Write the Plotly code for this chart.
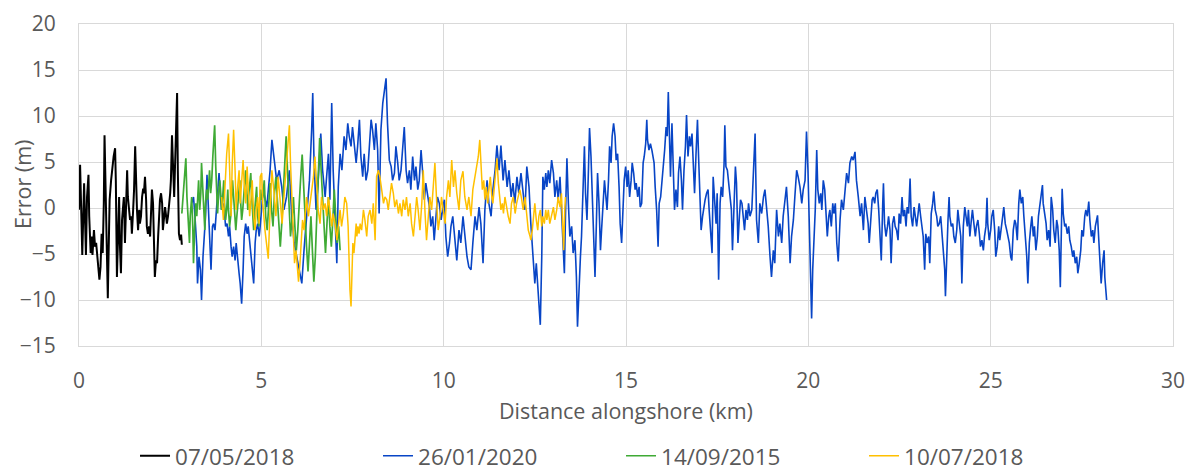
import plotly.graph_objects as go

# ---------------- data (km alongshore, error in m) ----------------
black_pts = [
 (0.00,-0.2),(0.03,4.7),(0.07,-1.7),(0.09,-5.1),(0.14,2.7),(0.16,-0.2),(0.19,-5.1),(0.22,1.2),(0.26,3.6),(0.28,-0.9),
 (0.32,-4.9),(0.35,-3.1),(0.37,-5.1),(0.41,-2.4),(0.44,-4.2),(0.47,-3.8),(0.50,-5.3),(0.53,-6.7),(0.56,-7.8),(0.59,-6.4),
 (0.62,-2.8),(0.65,-4.9),(0.68,0.5),(0.70,7.9),(0.73,1.2),(0.76,-6.7),(0.79,-9.8),(0.81,-5.3),(0.84,0.9),(0.88,3.0),
 (0.91,4.5),(0.95,5.6),(0.99,6.5),(1.01,3.0),(1.04,-7.5),(1.07,-1.3),(1.10,1.2),(1.12,-3.8),(1.15,-7.1),(1.18,-1.3),
 (1.21,0.9),(1.23,1.2),(1.26,-3.8),(1.29,-0.2),(1.32,4.1),(1.34,1.2),(1.37,-0.2),(1.40,-1.3),(1.43,-0.9),(1.45,-2.8),
 (1.48,-0.6),(1.51,2.0),(1.54,6.7),(1.56,3.0),(1.59,-0.2),(1.62,-2.4),(1.65,-0.2),(1.67,-1.7),(1.70,-0.9),(1.73,1.2),
 (1.76,2.1),(1.78,1.6),(1.81,3.4),(1.84,0.9),(1.86,-2.0),(1.89,-2.8),(1.92,-2.0),(1.95,-3.1),(1.97,-0.2),(2.00,2.0),
 (2.03,0.5),(2.06,-3.8),(2.08,-7.5),(2.11,-5.7),(2.14,-6.0),(2.17,-3.1),(2.19,-0.6),(2.22,0.9),(2.25,1.6),(2.28,0.5),
 (2.30,-2.4),(2.33,-1.3),(2.36,0.1),(2.39,-0.9),(2.41,-1.7),(2.44,-0.9),(2.47,0.1),(2.50,1.6),(2.52,3.0),(2.55,7.9),
 (2.58,4.5),(2.61,1.2),(2.63,4.1),(2.66,9.6),(2.69,12.5),(2.71,4.1),(2.74,-2.8),(2.77,-3.5),(2.80,-2.9),(2.82,-4.0),
]

blue_pts = [
 (3.09,0.5),(3.14,1.2),(3.18,-0.9),(3.23,-4.2),(3.25,-8.2),(3.29,-5.3),(3.33,-6.7),(3.36,-10.0),(3.40,-5.3),(3.44,-2.4),
 (3.47,-0.9),(3.51,3.6),(3.55,-0.2),(3.58,-3.1),(3.62,-6.7),(3.66,-2.0),(3.69,-1.7),(3.73,-2.4),(3.77,-0.2),(3.80,2.0),
 (3.84,3.8),(3.88,1.2),(3.91,-0.2),(3.95,0.5),(3.99,-0.6),(4.02,-2.0),(4.06,-1.7),(4.10,-3.1),(4.13,-2.0),(4.17,-4.2),
 (4.20,-5.3),(4.24,-4.2),(4.28,-5.7),(4.31,-3.8),(4.35,-6.0),(4.39,-7.1),(4.42,-8.2),(4.46,-10.4),(4.50,-6.7),(4.53,-3.1),
 (4.57,-1.7),(4.61,-2.8),(4.64,-2.0),(4.68,-3.8),(4.72,-5.3),(4.75,-6.7),(4.79,-8.2),(4.83,-3.8),(4.86,-2.4),(4.90,-1.7),
 (4.94,-3.1),(4.96,-2.4),(5.05,2.0),(5.15,0.1),(5.24,4.1),(5.29,7.4),(5.35,5.6),(5.42,3.0),(5.49,4.1),(5.56,2.3),
 (5.62,-0.2),(5.69,1.2),(5.77,4.1),(5.83,-0.6),(5.90,-3.8),(5.97,-5.3),(6.04,-6.7),(6.11,-8.2),(6.17,-4.6),(6.24,-0.9),
 (6.32,3.0),(6.38,8.5),(6.41,12.5),(6.44,5.9),(6.50,-0.2),(6.56,3.0),(6.63,8.1),(6.68,4.1),(6.75,1.2),(6.79,3.4),
 (6.84,5.9),(6.88,0.9),(6.93,11.4),(6.97,4.1),(7.02,-0.2),(7.07,-6.0),(7.11,2.3),(7.16,5.9),(7.21,4.1),(7.27,7.8),
 (7.32,6.3),(7.37,9.2),(7.41,7.8),(7.46,6.7),(7.50,8.8),(7.55,7.0),(7.60,4.9),(7.64,6.7),(7.69,9.6),(7.73,5.6),
 (7.78,3.4),(7.82,5.9),(7.87,3.0),(7.92,4.1),(7.96,6.3),(8.01,9.6),(8.05,8.5),(8.10,6.3),(8.14,9.2),(8.19,6.3),
 (8.23,-0.6),(8.28,8.5),(8.33,11.4),(8.37,12.8),(8.42,14.1),(8.46,9.2),(8.51,5.2),(8.56,4.5),(8.60,3.0),(8.65,3.8),
 (8.69,6.7),(8.74,4.9),(8.78,3.0),(8.83,4.1),(8.87,6.7),(8.92,8.8),(8.97,4.1),(9.01,2.7),(9.06,4.1),(9.10,2.0),
 (9.15,5.6),(9.20,3.0),(9.24,4.5),(9.29,2.0),(9.33,3.0),(9.38,6.3),(9.42,4.1),(9.47,0.9),(9.51,2.7),(9.56,1.2),
 (9.61,0.1),(9.65,-2.0),(9.70,-0.9),(9.74,-3.5),(9.79,-0.2),(9.83,1.2),(9.88,0.5),(9.93,-1.3),(9.97,-0.2),(10.02,0.9),
 (10.06,-3.1),(10.11,-5.3),(10.16,-3.8),(10.20,-2.0),(10.25,-0.9),(10.29,-2.4),(10.36,-5.7),(10.42,-2.4),(10.47,-3.8),(10.53,-0.9),
 (10.58,-3.1),(10.64,-5.3),(10.69,-6.4),(10.75,-6.7),(10.80,-3.8),(10.86,-0.9),(10.91,-2.4),(10.97,0.1),(11.02,-1.7),(11.08,-6.0),
 (11.13,-0.2),(11.19,3.0),(11.24,0.5),(11.30,-0.9),(11.35,2.0),(11.41,4.1),(11.46,6.8),(11.52,4.1),(11.57,6.8),(11.63,3.0),
 (11.68,5.2),(11.74,2.3),(11.79,4.1),(11.85,1.2),(11.90,2.7),(11.95,0.5),(12.01,3.4),(12.06,1.6),(12.12,3.8),(12.17,2.0),
 (12.23,-0.2),(12.28,4.5),(12.34,2.3),(12.39,-1.7),(12.43,-4.2),(12.47,-6.7),(12.50,-8.2),(12.54,-6.0),(12.58,-8.9),(12.61,-10.4),
 (12.65,-12.7),(12.69,-5.3),(12.72,3.4),(12.76,2.0),(12.80,3.8),(12.83,2.3),(12.87,4.1),(12.91,2.7),(12.96,5.2),(13.01,3.8),
 (13.05,1.2),(13.10,3.0),(13.14,0.9),(13.19,3.4),(13.23,-0.6),(13.28,-5.3),(13.31,-7.1),(13.34,-0.9),(13.38,5.4),(13.42,0.5),
 (13.46,-3.1),(13.51,-2.0),(13.55,-4.9),(13.60,-3.5),(13.64,-7.5),(13.67,-12.9),(13.71,-8.2),(13.75,-5.3),(13.78,-3.1),(13.82,2.0),
 (13.86,6.7),(13.89,1.6),(13.93,-1.3),(13.97,4.1),(14.00,8.7),(14.04,5.6),(14.08,0.5),(14.11,-4.2),(14.15,-7.5),(14.19,-1.3),
 (14.22,3.8),(14.26,0.5),(14.30,-4.6),(14.33,-2.4),(14.37,1.2),(14.41,3.0),(14.44,1.6),(14.48,-0.2),(14.52,3.0),(14.55,6.7),
 (14.59,4.9),(14.62,7.8),(14.66,9.2),(14.70,7.8),(14.73,5.2),(14.77,5.9),(14.81,2.3),(14.84,-1.7),(14.88,-3.8),(14.92,-0.6),
 (14.95,3.0),(14.99,4.5),(15.03,2.3),(15.06,4.1),(15.10,1.2),(15.14,3.0),(15.17,4.9),(15.21,3.8),(15.25,2.0),(15.28,2.7),
 (15.32,1.2),(15.36,2.3),(15.39,0.1),(15.43,0.5),(15.47,4.9),(15.50,5.6),(15.54,7.0),(15.57,9.6),(15.59,7.4),(15.63,6.3),
 (15.67,7.0),(15.71,6.3),(15.77,4.9),(15.80,2.3),(15.84,-0.2),(15.88,-4.2),(15.91,0.5),(15.95,1.2),(15.99,3.0),(16.02,4.1),
 (16.06,6.3),(16.10,8.8),(16.13,7.8),(16.16,12.6),(16.19,5.9),(16.22,3.4),(16.26,9.2),(16.30,4.9),(16.33,-0.2),(16.37,2.0),
 (16.41,0.1),(16.44,3.8),(16.48,5.6),(16.52,3.0),(16.55,-0.2),(16.59,4.1),(16.63,6.7),(16.66,10.1),(16.70,5.6),(16.74,7.8),
 (16.77,6.7),(16.81,8.1),(16.85,4.1),(16.88,1.6),(16.92,5.9),(16.96,9.6),(16.99,5.6),(17.03,1.2),(17.06,-2.4),(17.10,-0.9),
 (17.14,0.5),(17.17,0.9),(17.21,1.6),(17.25,2.0),(17.28,-0.2),(17.32,-3.1),(17.36,-4.9),(17.39,3.4),(17.43,0.5),(17.47,-1.7),
 (17.50,1.6),(17.54,-7.8),(17.58,0.5),(17.61,2.3),(17.65,1.2),(17.69,4.9),(17.71,9.0),(17.74,4.5),(17.78,4.1),(17.81,2.7),
 (17.85,1.2),(17.89,-0.2),(17.92,-4.6),(17.96,1.2),(18.00,4.5),(18.03,2.7),(18.07,-3.8),(18.11,-0.9),(18.14,0.9),(18.18,0.5),
 (18.22,-1.7),(18.25,-2.4),(18.29,-0.2),(18.33,-1.3),(18.36,0.5),(18.40,-0.9),(18.45,-0.2),(18.49,4.1),(18.54,8.1),(18.58,-1.3),
 (18.63,-3.8),(18.67,0.5),(18.72,-0.6),(18.77,1.2),(18.81,2.0),(18.86,-0.2),(18.90,-2.0),(18.95,-5.3),(18.99,-7.5),(19.04,-4.6),
 (19.08,-6.0),(19.13,-0.2),(19.18,-3.1),(19.22,-1.7),(19.27,-3.8),(19.31,-0.9),(19.36,1.2),(19.40,2.3),(19.45,-0.9),(19.50,-6.0),
 (19.54,-3.1),(19.59,-1.3),(19.63,1.2),(19.68,4.1),(19.72,3.4),(19.77,2.3),(19.82,0.5),(19.86,2.0),(19.91,3.0),(19.95,8.3),
 (19.99,4.1),(20.03,-2.4),(20.06,-6.0),(20.09,-12.0),(20.12,-6.7),(20.15,-4.2),(20.19,-0.2),(20.23,6.3),(20.26,2.0),(20.30,0.5),
 (20.34,1.6),(20.37,-0.2),(20.41,3.0),(20.45,2.0),(20.48,-0.6),(20.52,-3.1),(20.56,-0.9),(20.59,-0.2),(20.63,-2.0),(20.67,0.5),
 (20.70,-0.6),(20.74,0.5),(20.78,-3.8),(20.82,-5.8),(20.87,-1.3),(20.91,0.9),(20.96,-0.2),(21.00,2.0),(21.05,3.8),(21.10,2.7),
 (21.14,4.9),(21.19,5.6),(21.23,5.2),(21.28,6.1),(21.32,3.0),(21.37,1.2),(21.42,-0.9),(21.46,0.5),(21.51,-2.4),(21.55,1.2),
 (21.60,-0.2),(21.64,-1.7),(21.67,-3.8),(21.71,-0.9),(21.75,0.9),(21.78,1.2),(21.82,0.5),(21.85,1.6),(21.89,2.0),(21.93,-0.2),
 (21.96,-2.4),(22.00,-5.7),(22.04,0.5),(22.06,2.7),(22.09,-1.7),(22.13,-3.1),(22.17,-2.0),(22.20,-0.9),(22.24,-2.4),(22.27,-6.0),
 (22.31,-1.7),(22.35,-0.9),(22.38,-2.0),(22.42,-2.4),(22.46,-3.5),(22.49,-0.6),(22.53,-1.7),(22.57,1.2),(22.60,-0.9),(22.64,-0.2),
 (22.68,-2.0),(22.71,0.1),(22.75,-0.6),(22.79,3.2),(22.82,-0.9),(22.86,-2.0),(22.90,0.1),(22.93,-0.9),(22.97,-2.0),(23.01,-0.6),
 (23.04,0.5),(23.08,-0.9),(23.12,-2.0),(23.15,-3.1),(23.19,-6.7),(23.22,-2.8),(23.26,-3.8),(23.30,-3.1),(23.33,-6.0),(23.37,-0.6),
 (23.41,0.5),(23.44,1.8),(23.48,-0.2),(23.52,-0.9),(23.55,-2.0),(23.59,-1.7),(23.63,-0.9),(23.66,-2.4),(23.70,-3.8),(23.74,-6.7),
 (23.76,-9.6),(23.79,-5.3),(23.83,-1.3),(23.86,1.2),(23.88,-0.9),(23.92,-2.0),(23.96,-1.7),(23.99,-3.1),(24.03,-3.8),(24.07,-2.4),
 (24.10,-0.2),(24.14,-1.7),(24.18,-3.1),(24.21,-8.2),(24.25,-2.0),(24.29,0.1),(24.32,-0.9),(24.36,-2.0),(24.39,-0.2),(24.43,-3.1),
 (24.47,-1.3),(24.50,-0.2),(24.54,-1.7),(24.58,-3.1),(24.61,-2.0),(24.65,-1.3),(24.69,-2.8),(24.72,-4.2),(24.76,-3.5),(24.80,-4.6),
 (24.83,-3.1),(24.87,-2.0),(24.90,1.1),(24.92,-1.7),(24.96,-3.5),(25.00,-2.4),(25.03,-0.9),(25.07,-0.2),(25.11,-2.4),(25.14,-5.3),
 (25.18,-4.2),(25.22,-2.0),(25.25,-3.5),(25.29,-2.4),(25.33,-0.9),(25.36,0.1),(25.40,-1.7),(25.44,-2.4),(25.47,-3.1),(25.51,-3.8),
 (25.55,-5.3),(25.58,-5.7),(25.62,-2.4),(25.66,-1.3),(25.69,-1.7),(25.73,-3.5),(25.77,0.5),(25.80,2.0),(25.84,0.5),(25.88,1.2),
 (25.91,-0.9),(25.95,-3.1),(25.99,-5.3),(26.02,-8.2),(26.06,-3.8),(26.10,-2.0),(26.13,-0.9),(26.17,-3.1),(26.20,-2.0),(26.24,-4.6),
 (26.28,-3.1),(26.31,-0.9),(26.35,0.5),(26.39,1.2),(26.42,2.5),(26.44,0.5),(26.48,-0.6),(26.52,-1.7),(26.55,-3.5),(26.59,-2.4),
 (26.63,-4.2),(26.66,1.2),(26.70,-0.2),(26.73,-2.4),(26.77,-3.8),(26.81,-1.3),(26.84,-2.0),(26.88,-4.6),(26.91,-8.6),(26.94,-0.2),
 (26.96,2.1),(26.99,-0.6),(27.03,-2.0),(27.06,-1.7),(27.10,-2.8),(27.14,-2.0),(27.17,-3.5),(27.21,-4.2),(27.25,-5.3),(27.28,-4.6),
 (27.32,-6.0),(27.36,-5.3),(27.39,-7.1),(27.43,-6.0),(27.47,-4.6),(27.50,-2.4),(27.54,-3.1),(27.58,-0.9),(27.61,-0.2),(27.65,-0.9),
 (27.69,0.7),(27.72,-1.3),(27.76,-3.1),(27.80,-2.4),(27.83,-3.8),(27.87,-2.0),(27.91,-0.9),(27.93,-0.8),(27.96,-3.1),(27.99,-5.3),
 (28.03,-8.2),(28.07,-6.0),(28.11,-4.6),(28.13,-7.5),(28.16,-8.9),(28.18,-10.0),
]

green_pts = [
 (2.82,-0.6),(2.86,1.6),(2.91,4.1),(2.93,5.4),(2.96,1.2),(3.00,-2.4),(3.03,-3.8),(3.05,-0.9),(3.09,1.2),(3.12,-2.0),
 (3.14,-6.0),(3.17,-2.4),(3.20,0.5),(3.23,-0.9),(3.25,1.2),(3.28,3.0),(3.31,-0.2),(3.34,1.6),(3.36,4.9),(3.39,2.0),
 (3.42,-0.9),(3.45,-2.4),(3.47,0.5),(3.50,2.0),(3.53,0.9),(3.56,2.7),(3.58,4.1),(3.61,1.6),(3.64,3.0),(3.67,5.6),
 (3.69,7.8),(3.72,9.0),(3.75,4.5),(3.78,0.5),(3.80,-0.6),(3.83,1.6),(3.86,3.0),(3.88,2.0),(3.91,-0.2),(3.94,1.2),
 (3.97,3.0),(3.99,0.5),(4.02,-1.3),(4.05,-0.2),(4.08,2.0),(4.10,-0.2),(4.13,-2.0),(4.16,-0.9),(4.19,0.9),(4.21,3.0),
 (4.24,1.2),(4.27,-0.9),(4.30,-2.4),(4.32,-1.3),(4.35,0.5),(4.38,1.6),(4.41,3.0),(4.43,0.9),(4.46,-1.3),(4.49,-0.2),
 (4.52,1.2),(4.54,2.7),(4.57,4.1),(4.60,2.0),(4.63,-0.2),(4.65,1.2),(4.68,2.7),(4.71,3.8),(4.73,1.6),(4.76,-0.9),
 (4.79,-2.4),(4.82,-0.2),(4.84,0.9),(4.87,2.3),(4.90,-0.9),(4.93,-2.0),(4.95,-0.2),(4.98,2.0),(5.01,0.9),(5.04,1.2),
 (5.08,3.0),(5.12,-0.9),(5.16,-2.4),(5.20,0.5),(5.24,2.7),(5.28,-0.2),(5.32,-2.0),(5.36,1.6),(5.40,3.4),(5.44,0.9),
 (5.48,-1.3),(5.52,-4.2),(5.56,-1.7),(5.60,2.0),(5.64,4.9),(5.68,7.8),(5.72,3.8),(5.76,-0.6),(5.80,-3.1),(5.84,-1.3),
 (5.88,1.2),(5.92,-2.0),(5.96,-4.6),(6.00,-2.4),(6.04,0.9),(6.08,3.4),(6.12,5.8),(6.16,2.0),(6.20,-1.7),(6.24,-4.2),
 (6.28,-6.9),(6.32,-3.8),(6.36,-0.9),(6.40,-4.6),(6.44,-8.0),(6.48,-5.3),(6.52,-1.3),(6.56,2.7),(6.60,7.6),(6.64,4.1),
 (6.68,0.5),(6.72,-2.4),(6.76,-4.9),(6.80,-1.7),(6.84,1.2),(6.88,-2.0),(6.92,-4.2),(6.96,-1.3),(7.00,2.0),(7.04,-0.9),
 (7.08,-3.8),(7.12,-2.0),(7.16,-4.6),
]

yellow_pts = [
 (3.91,1.2),(3.96,-1.3),(4.00,2.0),(4.05,5.9),(4.10,8.1),(4.13,3.0),(4.17,-0.9),(4.20,4.5),(4.24,8.5),(4.28,4.1),
 (4.31,-0.2),(4.35,2.3),(4.39,4.1),(4.42,0.5),(4.46,2.7),(4.50,5.2),(4.53,2.7),(4.57,0.5),(4.61,4.5),(4.64,1.2),
 (4.68,-0.9),(4.72,1.2),(4.75,3.0),(4.79,-0.9),(4.83,-2.4),(4.86,-0.2),(4.90,1.2),(4.94,-1.7),(4.97,3.4),(5.01,3.8),
 (5.04,0.5),(5.10,-2.4),(5.15,-3.8),(5.19,-5.5),(5.24,-0.2),(5.29,4.1),(5.35,1.6),(5.40,-0.9),(5.46,3.4),(5.51,1.2),
 (5.57,-1.7),(5.62,1.2),(5.68,4.1),(5.73,7.0),(5.77,9.0),(5.80,4.9),(5.84,0.5),(5.88,-3.8),(5.91,-6.0),(5.95,-4.6),
 (5.99,-6.7),(6.02,-8.0),(6.06,-6.0),(6.10,-3.8),(6.13,-1.3),(6.17,-2.4),(6.21,-0.2),(6.24,1.2),(6.29,-0.9),(6.33,0.5),
 (6.38,2.0),(6.43,3.4),(6.47,5.6),(6.52,2.0),(6.56,-0.2),(6.61,-1.7),(6.65,1.2),(6.70,-0.2),(6.75,0.5),(6.79,-0.9),
 (6.84,1.2),(6.88,-0.2),(6.93,-2.0),(6.97,-0.6),(7.02,-1.7),(7.07,-3.5),(7.11,-1.7),(7.16,-0.2),(7.20,-2.0),(7.25,-0.6),
 (7.29,1.2),(7.34,0.5),(7.38,-2.0),(7.40,-5.3),(7.43,-8.9),(7.46,-10.7),(7.49,-6.0),(7.51,-3.8),(7.54,-4.9),(7.57,-2.8),
 (7.60,-1.7),(7.62,-3.1),(7.65,-2.0),(7.68,-2.8),(7.71,-1.7),(7.75,-2.4),(7.80,-0.2),(7.84,-1.3),(7.89,-3.1),(7.93,-0.9),
 (7.98,-0.2),(8.03,-1.7),(8.07,0.5),(8.12,-3.5),(8.16,3.4),(8.21,4.1),(8.25,3.4),(8.30,2.0),(8.35,0.5),(8.39,1.2),
 (8.44,0.9),(8.48,-0.2),(8.53,1.2),(8.57,2.7),(8.62,1.6),(8.66,0.1),(8.71,0.9),(8.76,-0.6),(8.80,0.5),(8.85,-0.9),
 (8.89,0.9),(8.94,-0.2),(8.98,1.2),(9.03,-0.9),(9.08,0.5),(9.12,-1.7),(9.17,-3.1),(9.21,-0.9),(9.26,1.2),(9.30,-0.2),
 (9.35,-2.4),(9.40,0.5),(9.44,4.1),(9.49,-0.6),(9.53,-3.5),(9.58,-0.9),(9.62,1.2),(9.67,-0.2),(9.72,2.7),(9.76,4.9),
 (9.81,0.5),(9.85,-2.4),(9.90,-0.9),(9.94,1.2),(9.99,-0.2),(10.04,-1.7),(10.08,1.2),(10.13,3.0),(10.17,1.2),(10.22,5.2),
 (10.27,2.3),(10.31,4.1),(10.36,1.6),(10.42,-0.2),(10.47,3.0),(10.53,4.0),(10.58,1.2),(10.64,-0.2),(10.69,1.2),(10.75,-0.9),
 (10.80,2.0),(10.86,3.4),(10.91,4.5),(10.95,5.6),(10.99,7.4),(11.02,4.5),(11.06,2.0),(11.10,3.0),(11.13,0.9),(11.17,2.3),
 (11.21,0.5),(11.24,2.0),(11.28,3.4),(11.32,1.2),(11.35,0.5),(11.39,2.3),(11.43,4.1),(11.46,5.4),(11.50,2.7),(11.54,1.2),
 (11.57,-0.2),(11.61,0.5),(11.64,-0.6),(11.68,1.2),(11.73,-0.2),(11.77,-0.9),(11.82,-1.7),(11.86,0.5),(11.91,1.2),(11.96,-0.6),
 (12.00,0.5),(12.05,1.2),(12.09,2.0),(12.14,0.9),(12.18,-0.2),(12.23,1.2),(12.28,-0.9),(12.32,-2.4),(12.37,-3.1),(12.39,-3.5),
 (12.43,-2.4),(12.47,-0.9),(12.50,0.5),(12.54,-1.3),(12.58,-2.4),(12.61,-0.9),(12.65,-0.2),(12.69,-2.0),(12.72,-0.9),(12.76,-1.7),
 (12.80,-0.2),(12.83,-1.3),(12.87,-0.2),(12.91,-1.7),(12.96,-0.6),(13.01,0.1),(13.05,-1.3),(13.10,-0.2),(13.14,1.2),(13.19,0.1),
 (13.23,1.6),(13.26,-1.3),(13.29,-4.6),(13.32,-0.2),(13.34,1.2),
]

series_names = ["07/05/2018", "26/01/2020", "14/09/2015", "10/07/2018"]
series_pts = [black_pts, blue_pts, green_pts, yellow_pts]
series_colors = ["#000000", "#0845c6", "#3faa35", "#ffc000"]
series_widths = [2.0, 1.6, 1.7, 1.5]

x_ticks = [0, 5, 10, 15, 20, 25, 30]
y_ticks = [-15, -10, -5, 0, 5, 10, 15, 20]

FONT = "Open Sans"
TXT = "#595959"
GRID = "#d9d9d9"

fig = go.Figure()
for name, pts, col, w in zip(series_names, series_pts, series_colors, series_widths):
    fig.add_trace(go.Scatter(
        x=[p[0] for p in pts], y=[p[1] for p in pts], mode="lines", name=name,
        line=dict(color=col, width=w)))

fig.update_layout(
    width=1186, height=471,
    margin=dict(l=79, r=13, t=24, b=125, autoexpand=False),
    paper_bgcolor="white", plot_bgcolor="white",
    font=dict(family=FONT, size=21, color=TXT),
    showlegend=True,
    legend=dict(orientation="h", x=0.0512, xanchor="left", y=-0.342, yanchor="middle",
                font=dict(family=FONT, size=22.5, color=TXT),
                entrywidth=198, entrywidthmode="pixels", itemwidth=30,
                bgcolor="rgba(0,0,0,0)"),
    annotations=[
        dict(text="Distance alongshore (km)", xref="paper", yref="paper", x=0.5, y=-0.199,
             xanchor="center", yanchor="middle", showarrow=False,
             font=dict(family=FONT, size=21.5, color=TXT)),
        dict(text="Error (m)", xref="paper", yref="paper", x=-0.0521, y=0.5, textangle=-90,
             xanchor="center", yanchor="middle", showarrow=False,
             font=dict(family=FONT, size=21.5, color=TXT)),
    ],
)
fig.update_xaxes(range=[0, 30], tickvals=x_ticks, showgrid=True, gridcolor=GRID, gridwidth=1,
                 zeroline=False, showline=True, linecolor=GRID, mirror=True, automargin=False,
                 ticks="", ticklabelstandoff=16, tickfont=dict(family=FONT, size=21, color=TXT))
fig.update_yaxes(range=[-15, 20], tickvals=y_ticks, showgrid=True, gridcolor=GRID, gridwidth=1,
                 zeroline=True, zerolinecolor=GRID, zerolinewidth=1, showline=True, linecolor=GRID, mirror=True,
                 automargin=False,
                 ticks="", ticklabelstandoff=18, tickfont=dict(family=FONT, size=21, color=TXT))

# remove the browser's default 8px page margin so the figure sits at the window origin
fig.write_html("out.html", config={"displayModeBar": False},
               post_script="document.body.style.margin='0px';document.body.style.overflow='hidden';")
